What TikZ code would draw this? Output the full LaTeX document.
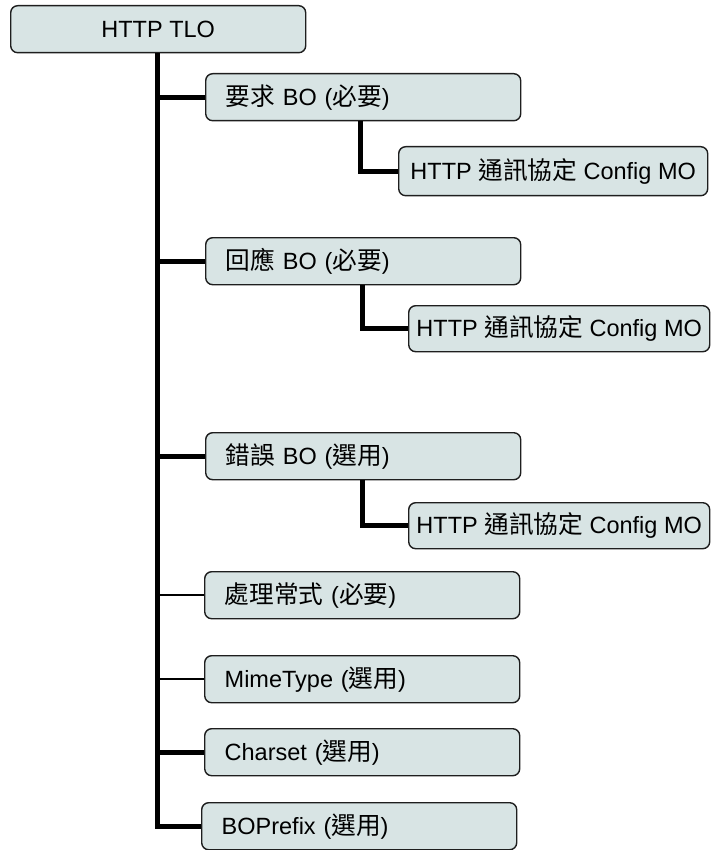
\documentclass[tikz,border=0pt]{standalone}
\usepackage{fontspec}
\setmainfont{Liberation Sans}
\newfontfamily\cjk[Scale=1.05]{Noto Sans CJK TC}
\definecolor{boxfill}{RGB}{216,228,228}
\definecolor{boxline}{RGB}{30,30,30}
\begin{document}
\begin{tikzpicture}[x=1pt,y=-1pt,
  box/.style={draw=boxline, fill=boxfill, line width=1.4pt, rounded corners=7pt,
    anchor=north west, inner ysep=0pt, font=\fontsize{23.5}{27}\selectfont},
  mbox/.style={box, minimum height=47pt, inner xsep=20pt, text width=275pt, align=left},
  sbox/.style={box, minimum height=46pt, inner xsep=2pt, align=center},
  heavy/.style={line width=5pt, draw=black},
  light/.style={line width=2pt, draw=black}]
\useasboundingbox (0,0) rectangle (711,850);

\node[box, minimum width=295pt, minimum height=47pt, align=center] (tlo) at (10,5) {HTTP TLO};

\node[mbox] (req) at (205,73) {{\cjk 要求} BO ({\cjk 必要})};
\node[sbox, minimum width=309pt, minimum height=49pt] (sub1) at (398,146) {HTTP {\cjk 通訊協定} Config MO};

\node[mbox] (res) at (205,237) {{\cjk 回應} BO ({\cjk 必要})};
\node[sbox, minimum width=301pt] (sub2) at (408,305) {HTTP {\cjk 通訊協定} Config MO};

\node[mbox] (err) at (205,432) {{\cjk 錯誤} BO ({\cjk 選用})};
\node[sbox, minimum width=301pt] (sub3) at (408,502) {HTTP {\cjk 通訊協定} Config MO};

\node[mbox] (proc) at (204,571) {{\cjk 處理常式} ({\cjk 必要})};
\node[mbox] (mime) at (204,655) {MimeType ({\cjk 選用})};
\node[mbox] (cs) at (204,728) {Charset ({\cjk 選用})};
\node[mbox] (bp) at (201,802) {BOPrefix ({\cjk 選用})};

\coordinate (t) at ([xshift=147pt]tlo.south west);

\draw[heavy] (t) |- (bp.west);
\draw[heavy] (t |- req.west) -- (req.west);
\draw[heavy] (t |- res.west) -- (res.west);
\draw[heavy] (t |- err.west) -- (err.west);
\draw[light] (t |- proc.west) -- (proc.west);
\draw[light] (t |- mime.west) -- (mime.west);
\draw[heavy] (t |- cs.west) -- (cs.west);

\draw[heavy] ([xshift=155pt]req.south west) |- (sub1.west);
\draw[heavy] ([xshift=157pt]res.south west) |- (sub2.west);
\draw[heavy] ([xshift=157pt]err.south west) |- (sub3.west);
\end{tikzpicture}
\end{document}
